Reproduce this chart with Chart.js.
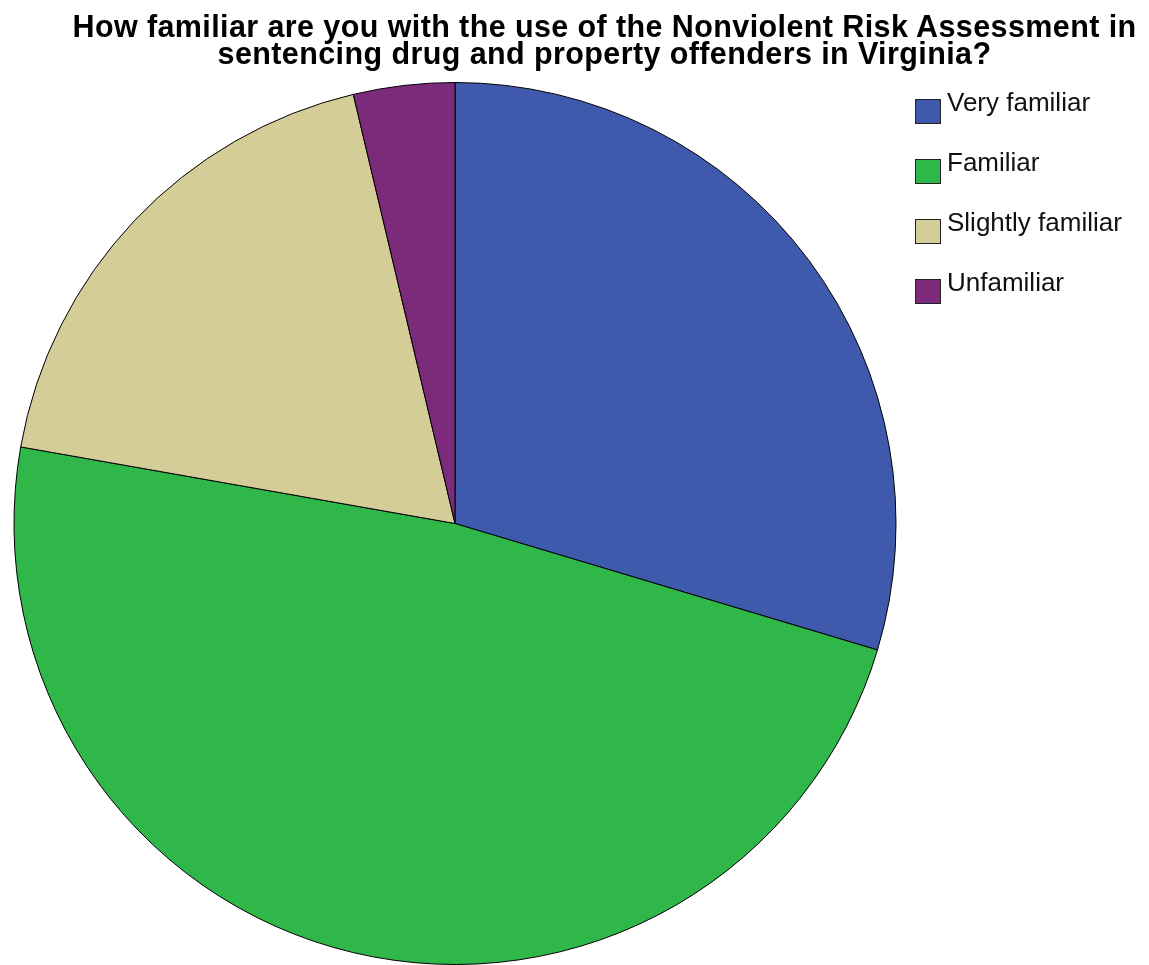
<!DOCTYPE html>
<html>
<head>
<meta charset="utf-8">
<script src="https://cdn.jsdelivr.net/npm/chart.js@4/dist/chart.umd.min.js"></script>
<style>
  body { margin: 0; background: #fff; }
  #wrap { position: relative; width: 1149px; height: 965px; overflow: hidden; }
  #chart { position: absolute; left: 0; top: 0; }
  #title {
    position: absolute; left: 0; top: 13px; width: 1209px;
    text-align: center; font-family: "Liberation Sans", Arial, sans-serif;
    font-weight: bold; font-size: 30.5px; line-height: 27px; letter-spacing: 0.4px; color: #000;
  }
  #legend { position: absolute; left: 915px; top: 88px; font-family: "Liberation Sans", Arial, sans-serif; }
  .item { position: relative; height: 60px; }
  .box { position: absolute; left: 0; top: 11px; width: 24px; height: 23px; border: 1px solid #222; }
  .label { position: absolute; left: 32px; top: -1px; font-size: 26px; line-height: 30px; color: #111; white-space: nowrap; }
</style>
</head>
<body>
<div id="wrap">
  <canvas id="chart" width="1149" height="965"></canvas>
  <div id="title">How familiar are you with the use of the Nonviolent Risk Assessment in<br>sentencing drug and property offenders in Virginia?</div>
  <div id="legend"></div>
</div>
<script>
const labels = ["Very familiar", "Familiar", "Slightly familiar", "Unfamiliar"]
const counts = [8, 13, 5, 1]
const colors = ["#3f5aad", "#2fb74a", "#d4cd98", "#7c2a7a"]

const legend = document.querySelector("#legend")
for (let i = 0; i < labels.length; i++) {
  const item = document.createElement("div")
  item.className = "item"
  item.innerHTML = "<div class='box' style='background:" + colors[i] + "'></div><div class='label'>" + labels[i] + "</div>"
  legend.appendChild(item)
}

const ctx = document.getElementById("chart")
new Chart(ctx, {
  type: "pie",
  data: {
    labels: labels,
    datasets: [{
      data: counts,
      backgroundColor: colors,
      borderColor: "#000",
      borderWidth: 1
    }]
  },
  options: {
    responsive: false,
    animation: false,
    layout: { padding: { left: 13, top: 82, right: 252, bottom: 0 } },
    plugins: {
      legend: { display: false },
      title: { display: false },
      tooltip: { enabled: false }
    }
  }
})
</script>
</body>
</html>
